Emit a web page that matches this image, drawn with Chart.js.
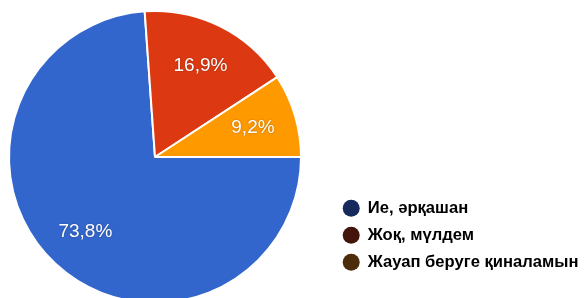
<!DOCTYPE html>
<html>
<head>
<meta charset="utf-8">
<script src="https://cdn.jsdelivr.net/npm/chart.js@4/dist/chart.umd.min.js"></script>
<style>
  html, body { margin: 0; padding: 0; background: #fff; overflow: hidden; }
  #wrap { position: relative; width: 584px; height: 304px; }
</style>
</head>
<body>
<div id="wrap"><canvas id="pie"></canvas></div>
<script>
// survey answers, clockwise from 3 o'clock
const labels = ['Ие, әрқашан', 'Жоқ, мүлдем', 'Жауап беруге қиналамын'];
const shares = [73.8, 16.9, 9.2];
const sliceColors = ['#3366cc', '#dc3912', '#ff9900'];
const dotColors = ['#15295c', '#43140b', '#4d2c0b'];

// percentage labels inside the slices
const sliceLabels = {
    id: 'sliceLabels',
    afterDatasetsDraw(chart) {
        const ctx = chart.ctx;
        const meta = chart.getDatasetMeta(0);
        ctx.save();
        ctx.font = '19px "Liberation Sans", Arial, sans-serif';
        ctx.fillStyle = '#fff';
        ctx.textAlign = 'center';
        ctx.textBaseline = 'middle';
        ctx.shadowColor = 'rgba(0,0,0,0.35)';
        ctx.shadowBlur = 2;
        meta.data.forEach((arc, i) => {
            const p = arc.getProps(['x', 'y', 'startAngle', 'endAngle', 'outerRadius'], true);
            const mid = (p.startAngle + p.endAngle) / 2;
            const r = p.outerRadius * 0.7;
            const txt = shares[i].toFixed(1).replace('.', ',') + '%';
            ctx.fillText(txt, p.x + Math.cos(mid) * r, p.y + Math.sin(mid) * r);
        });
        ctx.restore();
    }
};

// keep the pie at the left and the legend low on the right
const legendPlace = {
    id: 'legendPlace',
    beforeLayout(chart) {
        const lg = chart.legend;
        if (lg && !lg._patched) {
            const fit = lg.fit;
            lg.fit = function () {
                fit.call(this);
                this.width = 282;
            };
            lg._patched = true;
        }
    },
    afterLayout(chart) {
        const lg = chart.legend;
        lg.left = 332.5;
        lg.right = 584;
        lg.bottom = 281;
    }
};

new Chart(document.getElementById('pie'), {
    type: 'pie',
    data: {
        labels: labels,
        datasets: [{
            data: shares,
            backgroundColor: sliceColors,
            borderColor: '#fff',
            borderWidth: 2
        }]
    },
    options: {
        responsive: true,
        maintainAspectRatio: false,
        animation: false,
        rotation: 90,
        layout: { padding: { left: 8, top: 10 } },
        plugins: {
            tooltip: { enabled: false },
            legend: {
                position: 'right',
                align: 'end',
                labels: {
                    usePointStyle: true,
                    pointStyle: 'circle',
                    boxWidth: 17,
                    boxHeight: 12,
                    padding: 10.4,
                    color: '#000',
                    font: { family: '"Liberation Sans", Arial, sans-serif', size: 16.6, weight: 'bold' },
                    generateLabels(chart) {
                        return labels.map((t, i) => ({
                            text: t,
                            fillStyle: dotColors[i],
                            strokeStyle: dotColors[i],
                            lineWidth: 0,
                            pointStyle: 'circle',
                            hidden: false,
                            index: i
                        }));
                    }
                }
            }
        }
    },
    plugins: [sliceLabels, legendPlace]
});
</script>
</body>
</html>
